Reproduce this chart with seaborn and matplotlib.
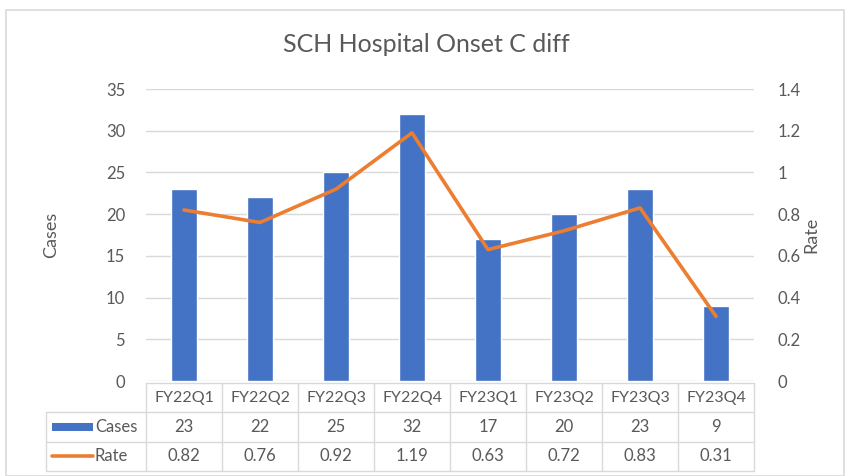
import numpy as np
import pandas as pd
import matplotlib
matplotlib.use("Agg")
import matplotlib.pyplot as plt
import seaborn as sns
from matplotlib.patches import Rectangle

categories = ["FY22Q1", "FY22Q2", "FY22Q3", "FY22Q4", "FY23Q1", "FY23Q2", "FY23Q3", "FY23Q4"]
cases = [23, 22, 25, 32, 17, 20, 23, 9]
rate = [0.82, 0.76, 0.92, 1.19, 0.63, 0.72, 0.83, 0.31]
rate_labels = ["0.82", "0.76", "0.92", "1.19", "0.63", "0.72", "0.83", "0.31"]
left_ticks = [0, 5, 10, 15, 20, 25, 30, 35]
right_ticks = [0, 0.2, 0.4, 0.6, 0.8, 1.0, 1.2, 1.4]
right_tick_labels = ["0", "0.2", "0.4", "0.6", "0.8", "1", "1.2", "1.4"]

BLUE = "#4472C4"
ORANGE = "#ED7D31"
TXT = "#595959"
GRID = "#D9D9D9"

sns.set_theme(style="white")
plt.rcParams["font.family"] = ["Lato", "DejaVu Sans"]

W, H = 852, 476
fig = plt.figure(figsize=(W / 100, H / 100), dpi=100)
fig.patch.set_facecolor("white")

def px(x0, y0, x1, y1):
    return [x0 / W, 1 - y1 / H, (x1 - x0) / W, (y1 - y0) / H]

# outer chart border
fig.add_artist(Rectangle((6 / W, 0), (844 - 6) / W, 1 - 10 / H, transform=fig.transFigure,
                         fill=False, edgecolor=GRID, linewidth=1.2))

ax = fig.add_axes(px(146, 89, 754, 381))
df = pd.DataFrame({"Quarter": categories, "Cases": cases, "Rate": rate})
sns.barplot(data=df, x="Quarter", y="Cases", ax=ax, color=BLUE, width=0.33, saturation=1)
ax.set_xlim(-0.5, len(categories) - 0.5)
ax.set_ylim(0, 35)
ax.set_yticks(left_ticks)
ax.set_yticklabels([str(t) for t in left_ticks], color=TXT, fontsize=12)
ax.set_xticks([])
ax.set_xlabel("")
ax.set_ylabel("Cases", color=TXT, fontsize=13, labelpad=34)
ax.grid(axis="y", color=GRID, linewidth=1)
ax.set_axisbelow(True)
for s in ax.spines.values():
    s.set_visible(False)
ax.tick_params(axis="y", length=0, pad=15)

ax2 = ax.twinx()
sns.lineplot(x=np.arange(len(categories)), y=rate, ax=ax2, color=ORANGE, linewidth=2.6)
ax2.set_ylim(0, 1.4)
ax2.set_yticks(right_ticks)
ax2.set_yticklabels(right_tick_labels, color=TXT, fontsize=12)
ax2.set_ylabel("Rate", color=TXT, fontsize=13, labelpad=2)
ax2.tick_params(axis="y", length=0, pad=17)
for s in ax2.spines.values():
    s.set_visible(False)
ax2.set_xlim(-0.5, len(categories) - 0.5)

fig.text(0.5, 1 - 45 / H, "SCH Hospital Onset C diff", ha="center", va="center",
         color=TXT, fontsize=18)

# data table
n = len(categories)
lw_unit = 100 / 76
tax = fig.add_axes(px(46, 383, 754, 471))
tax.set_xlim(-0.5 - lw_unit, n - 0.5)
tax.set_ylim(0, 3)
tax.axis("off")
xl = -0.5 - lw_unit
for y, x0 in [(3, -0.5), (2, xl), (1, xl), (0, xl)]:
    tax.plot([x0, n - 0.5], [y, y], color=GRID, lw=1, clip_on=False)
for k in range(n + 1):
    tax.plot([k - 0.5, k - 0.5], [0, 3], color=GRID, lw=1, clip_on=False)
tax.plot([xl, xl], [0, 2], color=GRID, lw=1, clip_on=False)
for i in range(n):
    tax.text(i, 2.5, categories[i], ha="center", va="center", color=TXT, fontsize=11.5)
    tax.text(i, 1.5, str(cases[i]), ha="center", va="center", color=TXT, fontsize=12)
    tax.text(i, 0.5, rate_labels[i], ha="center", va="center", color=TXT, fontsize=12)
# legend keys
kx0 = xl + 6 / 76
kx1 = xl + 47 / 76
tax.add_patch(Rectangle((kx0, 1.38), kx1 - kx0, 0.24, color=BLUE, lw=0))
tax.plot([kx0, kx1], [0.5, 0.5], color=ORANGE, lw=2.6, solid_capstyle="round")
tax.text(kx1 + 2 / 76, 1.5, "Cases", ha="left", va="center", color=TXT, fontsize=12)
tax.text(kx1 + 2 / 76, 0.5, "Rate", ha="left", va="center", color=TXT, fontsize=12)

fig.savefig("out.png", dpi=100)
